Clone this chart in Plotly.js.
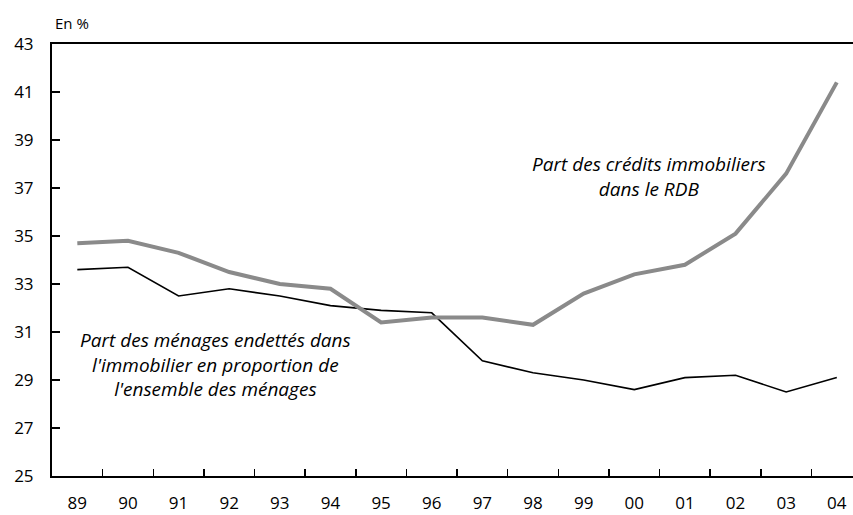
<!DOCTYPE html>
<html>
<head>
<meta charset="utf-8">
<script src="https://cdn.plot.ly/plotly-3.0.1.min.js"></script>
<style>html,body{margin:0;padding:0;background:#fff;}#chart{width:853px;height:515px;}</style>
</head>
<body>
<div id="chart"></div>
<script>
const years = ["89","90","91","92","93","94","95","96","97","98","99","00","01","02","03","04"];
const creditsRDB = [34.7, 34.8, 34.3, 33.5, 33.0, 32.8, 31.4, 31.6, 31.6, 31.3, 32.6, 33.4, 33.8, 35.1, 37.6, 41.4];
const menagesEndettes = [33.6, 33.7, 32.5, 32.8, 32.5, 32.1, 31.9, 31.8, 29.8, 29.3, 29.0, 28.6, 29.1, 29.2, 28.5, 29.1];
const yTicks = [25, 27, 29, 31, 33, 35, 37, 39, 41, 43];

const FONT = "Open Sans, DejaVu Sans, sans-serif";

const traces = [
  {x: years, y: menagesEndettes, type: "scatter", mode: "lines",
   line: {color: "#000000", width: 1.6}, hoverinfo: "skip"},
  {x: years, y: creditsRDB, type: "scatter", mode: "lines",
   line: {color: "#8a8a8a", width: 4}, hoverinfo: "skip"}
];

const layout = {
  width: 853, height: 515,
  margin: {l: 52, r: 0, t: 44, b: 39, pad: 0},
  paper_bgcolor: "#ffffff", plot_bgcolor: "#ffffff",
  showlegend: false,
  font: {family: FONT, size: 17, color: "#000"},
  xaxis: {
    type: "category",
    range: [-0.5, 15.32],
    tickson: "boundaries",
    ticks: "inside", ticklen: 7, tickwidth: 1.5, tickcolor: "#000",
    showline: true, linecolor: "#000", linewidth: 2,
    mirror: true,
    showgrid: false, zeroline: false,
    ticklabelstandoff: 11,
    tickfont: {family: FONT, size: 17, color: "#000"},
    fixedrange: true
  },
  yaxis: {
    range: [25, 43],
    tickvals: yTicks,
    ticktext: yTicks.map(String),
    ticks: "inside", ticklen: 8, tickwidth: 1.5, tickcolor: "#000",
    showline: true, linecolor: "#000", linewidth: 2,
    showgrid: false, zeroline: false,
    ticklabelstandoff: 13,
    tickfont: {family: FONT, size: 17, color: "#000"},
    fixedrange: true
  },
  annotations: [
    {xref: "paper", yref: "paper", x: 0, y: 1, xanchor: "left", yanchor: "bottom",
     xshift: 1, yshift: 9, showarrow: false,
     text: "En %", font: {family: FONT, size: 15, color: "#000"}},
    {xref: "x", yref: "y", x: 2.72, y: 29.63, xanchor: "center", yanchor: "middle",
     showarrow: false, align: "center",
     text: "<i>Part des ménages endettés dans<br>l'immobilier en proportion de<br>l'ensemble des ménages</i>",
     font: {family: FONT, size: 19, color: "#000"}},
    {xref: "x", yref: "y", x: 11.29, y: 37.47, xanchor: "center", yanchor: "middle",
     showarrow: false, align: "center",
     text: "<i>Part des crédits immobiliers<br>dans le RDB</i>",
     font: {family: FONT, size: 19, color: "#000"}}
  ]
};

Plotly.newPlot("chart", traces, layout, {staticPlot: true, displayModeBar: false});
</script>
</body>
</html>
